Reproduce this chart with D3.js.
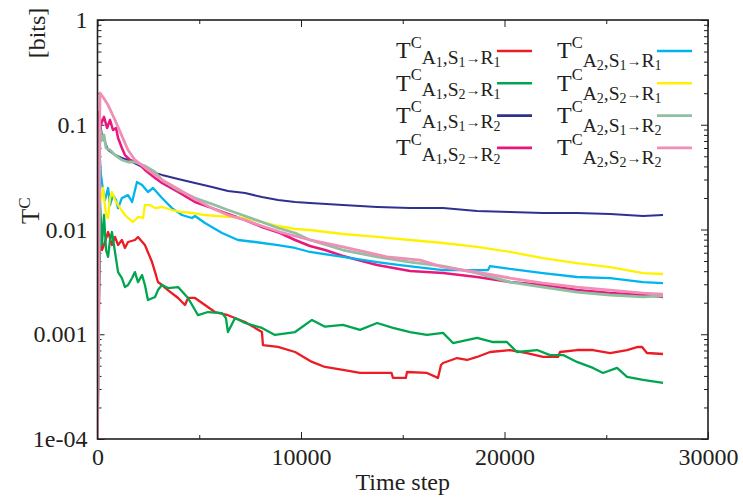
<!DOCTYPE html>
<html>
<head>
<meta charset="utf-8">
<script src="https://cdn.jsdelivr.net/npm/d3@7"></script>
<style>
  html, body { margin: 0; padding: 0; background: #fff; }
  svg { display: block; }
  text { font-family: "Liberation Serif", "Times New Roman", serif; fill: #231f20; }
</style>
</head>
<body>
<svg id="chart" width="743" height="500"></svg>
<script>
// Transfer entropy T^C per agent/sensor/actuator pair, [time step, bits]
const tA1S1R1 = [[0,1e-4],[120,0.01104],[220,0.00637],[370,0.0076],[520,0.00946],[710,0.00711],[860,0.00849],[1010,0.00711],[1200,0.00794],[1350,0.00666],[1500,0.0076],[1840,0.00794],[1990,0.00849],[2330,0.00711],[2680,0.00489],[2830,0.00392],[2970,0.00315],[3170,0.00295],[3460,0.00264],[3960,0.00222],[4300,0.0019],[4450,0.00222],[4790,0.00222],[5280,0.0019],[5770,0.00163],[6410,0.00152],[7250,0.00131],[8080,0.00105],[8130,0.000789],[8870,0.000756],[9710,0.000677],[10540,0.000544],[11180,0.000487],[12060,0.000456],[12900,0.000427],[14450,0.000427],[14520,0.000383],[15150,0.000383],[15210,0.000436],[16190,0.000427],[16730,0.000383],[16880,0.000509],[16980,0.000532],[17670,0.000593],[18160,0.000568],[18650,0.000607],[19290,0.000677],[20270,0.000707],[21110,0.000662],[21890,0.000607],[22630,0.000607],[22730,0.000677],[23560,0.000707],[24350,0.000707],[25190,0.000662],[26020,0.000707],[26560,0.000756],[26760,0.000756],[27000,0.000662],[27790,0.000648]];
const tA1S2R1 = [[0,1e-4],[120,0.0191],[220,0.00711],[320,0.01375],[420,0.00637],[520,0.00547],[615,0.00794],[710,0.00946],[860,0.0061],[1010,0.00392],[1200,0.00344],[1350,0.00282],[1500,0.00295],[1700,0.00344],[1840,0.00392],[1990,0.00315],[2190,0.00367],[2330,0.00295],[2480,0.00212],[2830,0.00227],[2970,0.00264],[3170,0.00295],[3460,0.00276],[3960,0.00282],[4450,0.00222],[4940,0.00152],[5430,0.00163],[6120,0.00159],[6310,0.00143],[6410,0.00105],[6760,0.00143],[7250,0.00128],[8080,0.00115],[8720,0.000986],[9710,0.00105],[10540,0.00137],[11180,0.00118],[12060,0.00123],[12900,0.0011],[13740,0.00128],[14520,0.00115],[15360,0.00105],[16190,0.000986],[16980,0.00103],[17470,0.000825],[18650,0.000923],[19440,0.000843],[20120,0.000843],[20610,0.000677],[21600,0.000707],[22240,0.000633],[22880,0.000633],[23560,0.000544],[24350,0.000477],[24840,0.000427],[25530,0.000477],[26020,0.000391],[26810,0.000366],[27790,0.000343]];
const tA1S1R2 = [[0,1e-4],[120,0.1039],[220,0.0798],[370,0.0684],[520,0.0574],[860,0.0514],[1200,0.0482],[1500,0.0461],[1990,0.0413],[2680,0.0354],[3170,0.0332],[3960,0.0304],[4790,0.0278],[5630,0.0255],[6410,0.0233],[7250,0.0223],[8080,0.0204],[8870,0.0191],[9710,0.0183],[10440,0.0179],[12060,0.0171],[13740,0.0164],[15360,0.016],[16980,0.016],[18650,0.015],[20270,0.01469],[21890,0.01437],[23560,0.01437],[25190,0.01406],[26810,0.01346],[27790,0.01375]];
const tA1S2R2 = [[0,1e-4],[75,0.132],[170,0.1],[320,0.119],[470,0.0931],[615,0.111],[760,0.0891],[910,0.0931],[1010,0.0748],[1200,0.06],[1350,0.0514],[1600,0.0461],[1990,0.0432],[2330,0.037],[2830,0.031],[3170,0.0278],[3960,0.0228],[4790,0.0183],[5630,0.016],[6410,0.01406],[7250,0.01232],[8080,0.01057],[8970,0.00926],[9710,0.00794],[10440,0.00696],[11180,0.00637],[12060,0.00559],[13740,0.00458],[15360,0.00401],[16980,0.00384],[18650,0.00352],[20270,0.00315],[21890,0.00295],[23560,0.00264],[25190,0.00247],[26810,0.00237],[27790,0.00227]];
const tA2S1R1 = [[0,1e-4],[120,0.0461],[170,0.0332],[270,0.0238],[370,0.0191],[520,0.0249],[615,0.0171],[760,0.0213],[910,0.0191],[1010,0.016],[1200,0.02],[1500,0.0213],[1700,0.0183],[1940,0.0284],[2190,0.0266],[2480,0.0228],[2730,0.0249],[3170,0.02],[3660,0.016],[4150,0.01375],[4640,0.01288],[4790,0.01346],[5280,0.01153],[6120,0.00926],[6900,0.00794],[7740,0.0076],[8870,0.00711],[9710,0.00666],[10440,0.0061],[12060,0.00547],[13740,0.00489],[14870,0.00458],[16980,0.0041],[18650,0.0041],[19190,0.0041],[19290,0.00448],[20270,0.0042],[21890,0.00384],[23560,0.00352],[25190,0.00344],[26810,0.00315],[27790,0.00308]];
const tA2S2R1 = [[0,1e-4],[75,0.0266],[170,0.0191],[270,0.0249],[420,0.01375],[520,0.01288],[615,0.02],[710,0.0228],[860,0.0191],[1110,0.016],[1350,0.01375],[1500,0.01288],[1740,0.01179],[1990,0.01317],[2240,0.01288],[2330,0.0171],[2580,0.0171],[2830,0.016],[3170,0.0164],[3660,0.01535],[4150,0.01469],[4640,0.01437],[5280,0.01375],[6410,0.01317],[7250,0.01288],[8080,0.01179],[8870,0.0108],[9710,0.01011],[10440,0.00989],[12060,0.00906],[13740,0.00849],[15360,0.00794],[16980,0.00743],[18650,0.00681],[20270,0.0061],[21890,0.00534],[23560,0.00478],[25190,0.00438],[26810,0.00384],[27790,0.00376]];
const tA2S1R2 = [[0,1e-4],[120,0.0931],[220,0.0715],[320,0.0798],[420,0.06],[615,0.0574],[860,0.0514],[1200,0.0461],[1500,0.0441],[1840,0.0441],[2330,0.0404],[2830,0.0354],[3170,0.0297],[3960,0.0238],[4790,0.02],[5630,0.0175],[6410,0.01535],[7250,0.01346],[8080,0.01179],[8870,0.01034],[9710,0.00926],[10440,0.00794],[12060,0.00637],[13740,0.00547],[15360,0.00489],[16980,0.00448],[18650,0.00384],[20270,0.00315],[21890,0.00282],[23560,0.00253],[25190,0.00237],[26810,0.00227],[27790,0.00232]];
const tA2S2R2 = [[0,1e-4],[120,0.201],[270,0.184],[520,0.154],[860,0.111],[1200,0.0781],[1500,0.0574],[1840,0.0461],[2480,0.037],[3170,0.0297],[3960,0.0244],[4790,0.0195],[5630,0.016],[6410,0.01375],[7250,0.01232],[8080,0.0108],[8970,0.00946],[9710,0.00867],[10440,0.00794],[12060,0.00681],[13150,0.0061],[14230,0.00547],[15850,0.00511],[16980,0.00438],[18650,0.00392],[20270,0.00344],[21890,0.00308],[23560,0.00282],[25190,0.00264],[26810,0.00247],[27790,0.00242]];

// Subscript indices (agent, sensor, actuator) for each series
const seriesKeys = [[1,1,1],[1,2,1],[1,1,2],[1,2,2],[2,1,1],[2,2,1],[2,1,2],[2,2,2]];
const seriesColors = ["#ec1c24","#00a54f","#2e3192","#e8177d","#00b5ef","#fff200","#8fc0a0","#f18db6"];
const seriesData = [tA1S1R1, tA1S2R1, tA1S1R2, tA1S2R2, tA2S1R1, tA2S2R1, tA2S1R2, tA2S2R2];

const yTicks = [1, 0.1, 0.01, 0.001, 1e-4];
const yTickLabels = ["1", "0.1", "0.01", "0.001", "1e-04"];
const xTicks = [0, 10000, 20000, 30000];
const xTickLabels = ["0", "10000", "20000", "30000"];
const xMinorTicks = [5000, 15000, 25000];

const svg = d3.select("#chart");
const L = 97.5, R = 708, T = 20, B = 439;

const x = d3.scaleLinear().domain([0, 30000]).range([L, R]);
const y = d3.scaleLog().domain([1e-4, 1]).range([B, T]).clamp(true);

svg.append("rect").attr("width", 743).attr("height", 500).attr("fill", "#fff");

// clip for series lines
svg.append("defs").append("clipPath").attr("id", "plotClip")
  .append("rect").attr("x", L).attr("y", T).attr("width", R - L).attr("height", B - T);

// log minor tick positions
const yMinor = [];
for (let e = -4; e < 0; e++) for (let m = 2; m <= 9; m++) yMinor.push(m * Math.pow(10, e));

function styleAxis(g) {
  g.select(".domain").remove();
  g.selectAll(".tick line").attr("stroke", "#231f20").attr("stroke-width", 1);
  g.selectAll(".tick text").attr("font-size", 24).attr("fill", "#231f20")
    .attr("font-family", "'Liberation Serif', 'Times New Roman', serif");
}

// Left axis with labels
svg.append("g").attr("transform", `translate(${L},0)`)
  .call(d3.axisLeft(y).tickValues(yTicks).tickFormat((d, i) => yTickLabels[i]).tickSizeInner(-7).tickSizeOuter(0).tickPadding(10))
  .call(styleAxis);
svg.append("g").attr("transform", `translate(${L},0)`)
  .call(d3.axisLeft(y).tickValues(yMinor).tickFormat("").tickSizeInner(-4).tickSizeOuter(0))
  .call(styleAxis);
// Right axis
svg.append("g").attr("transform", `translate(${R},0)`)
  .call(d3.axisRight(y).tickValues(yTicks).tickFormat("").tickSizeInner(-7).tickSizeOuter(0))
  .call(styleAxis);
svg.append("g").attr("transform", `translate(${R},0)`)
  .call(d3.axisRight(y).tickValues(yMinor).tickFormat("").tickSizeInner(-4).tickSizeOuter(0))
  .call(styleAxis);
// Bottom axis with labels
svg.append("g").attr("transform", `translate(0,${B})`)
  .call(d3.axisBottom(x).tickValues(xTicks).tickFormat((d, i) => xTickLabels[i]).tickSizeInner(-7).tickSizeOuter(0).tickPadding(9))
  .call(styleAxis);
svg.append("g").attr("transform", `translate(0,${B})`)
  .call(d3.axisBottom(x).tickValues(xMinorTicks).tickFormat("").tickSizeInner(-4).tickSizeOuter(0))
  .call(styleAxis);
// Top axis
svg.append("g").attr("transform", `translate(0,${T})`)
  .call(d3.axisTop(x).tickValues(xTicks).tickFormat("").tickSizeInner(-7).tickSizeOuter(0))
  .call(styleAxis);
svg.append("g").attr("transform", `translate(0,${T})`)
  .call(d3.axisTop(x).tickValues(xMinorTicks).tickFormat("").tickSizeInner(-4).tickSizeOuter(0))
  .call(styleAxis);

// Series lines
const line = d3.line().x(d => x(d[0])).y(d => y(d[1]));
const widths = [2.3, 2.3, 2.0, 2.5, 2.3, 2.3, 2.8, 2.8];
const plot = svg.append("g").attr("clip-path", "url(#plotClip)");
seriesData.forEach((data, i) => {
  plot.append("path").datum(data)
    .attr("d", line)
    .attr("fill", "none")
    .attr("stroke", seriesColors[i])
    .attr("stroke-width", widths[i])
    .attr("stroke-linejoin", "round");
});

// Frame
svg.append("rect").attr("x", L).attr("y", T).attr("width", R - L).attr("height", B - T)
  .attr("fill", "none").attr("stroke", "#231f20").attr("stroke-width", 1.6);

// Axis titles
svg.append("text").attr("x", x(15000)).attr("y", 490).attr("text-anchor", "middle")
  .attr("font-size", 24).text("Time step");
svg.append("text").attr("transform", "translate(45,33) rotate(-90)").attr("text-anchor", "middle")
  .attr("font-size", 24).text("[bits]");
const yt = svg.append("text").attr("transform", "translate(39,224) rotate(-90)").attr("font-size", 25);
yt.append("tspan").text("T");
yt.append("tspan").attr("font-size", 17).attr("dy", -9).text("C");

// Legend
const legendX = [396, 557];
const legendLineX = [[497, 532], [657, 692]];
const subShift = [5.5, 9];
seriesKeys.forEach((k, i) => {
  const col = Math.floor(i / 4), row = i % 4;
  const ly = 51 + row * 32.3;
  const base = ly + 7.3;
  const sb = base + subShift[col];
  const parts = [
    { t: "T", s: 24, y: base },
    { t: "C", s: 16.5, y: base - 10.5 },
    { t: "A", s: 19.5, y: sb },
    { t: String(k[0]), s: 14, y: sb + 3 },
    { t: ",", s: 19.5, y: sb },
    { t: "S", s: 19.5, y: sb },
    { t: String(k[1]), s: 14, y: sb + 3 },
    { t: "\u2192", s: 15, y: sb - 1, w: "bold" },
    { t: "R", s: 19.5, y: sb },
    { t: String(k[2]), s: 14, y: sb + 3 }
  ];
  const txt = svg.append("text").attr("x", legendX[col]).attr("y", base);
  parts.forEach(p => txt.append("tspan").attr("y", p.y).attr("font-size", p.s)
    .attr("font-weight", p.w || null).text(p.t));
  svg.append("line").attr("x1", legendLineX[col][0]).attr("x2", legendLineX[col][1])
    .attr("y1", ly).attr("y2", ly)
    .attr("stroke", seriesColors[i]).attr("stroke-width", 2.6);
});
</script>
</body>
</html>
